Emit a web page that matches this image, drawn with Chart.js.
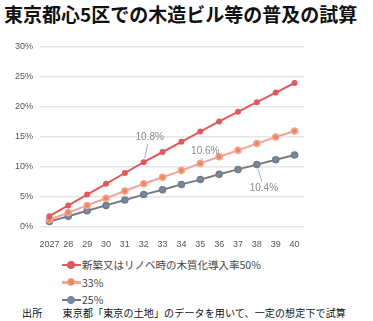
<!DOCTYPE html>
<html><head><meta charset="utf-8">
<script src="https://cdn.jsdelivr.net/npm/chart.js@4/dist/chart.umd.min.js"></script>
<style>
html,body{margin:0;padding:0;background:#fff;width:373px;height:321px;overflow:hidden;font-family:"Noto Sans CJK JP","Noto Sans",sans-serif;}
#title{position:absolute;left:4px;top:2px;font-size:19px;font-weight:bold;color:#111;white-space:nowrap;letter-spacing:0px;line-height:24px;}
#wrap{position:absolute;left:0;top:0;width:373px;height:250px;}
#legend{position:absolute;left:62px;top:256px;font-size:10.5px;color:#444;}
.li{height:17.5px;display:flex;align-items:center;white-space:nowrap;}
.mk{position:relative;width:19px;height:10px;margin-right:1px;}
.mk .ln{position:absolute;left:0;right:0;top:4px;height:2.5px;}
.mk .dt{position:absolute;left:5px;top:1px;width:8px;height:8px;border-radius:50%;box-sizing:border-box;}
#foot{position:absolute;left:22px;top:305px;font-size:10px;letter-spacing:0.15px;color:#111;white-space:nowrap;line-height:16px;}
</style></head>
<body>
<div id="title">東京都心5区での木造ビル等の普及の試算</div>
<div id="wrap"><canvas id="c"></canvas></div>
<div id="legend"></div>
<div id="foot">出所　　東京都「東京の土地」のデータを用いて、一定の想定下で試算</div>
<script>
const years = ["2027","28","29","30","31","32","33","34","35","36","37","38","39","40"];
const seriesNames = ["新築又はリノベ時の木質化導入率50%","33%","25%"];
const rate50 = [1.8,3.6,5.4,7.2,9.0,10.8,12.5,14.2,15.9,17.6,19.2,20.8,22.4,24.0];
const rate33 = [1.2,2.4,3.6,4.8,6.0,7.2,8.3,9.4,10.6,11.7,12.8,13.9,15.0,16.0];
const rate25 = [0.9,1.8,2.7,3.6,4.5,5.4,6.2,7.1,7.9,8.8,9.6,10.4,11.2,12.0];
const yTicks = [0,5,10,15,20,25,30];
// annotated values: [series index, category index, label]
const notes = [[0,5,"10.8%"],[1,8,"10.6%"],[2,11,"10.4%"]];

const styles = [
  {line:"#e05a5c", fill:"#e05a5c", border:"#e05a5c"},
  {line:"#f2a39a", fill:"#f0884e", border:"#f2a39a"},
  {line:"#7a7a7a", fill:"#6b8cb0", border:"#7a7a7a"}
];
const noteOffsets = [[6,-25],[5,-12],[7,24]];

const calloutPlugin = {
  id:"callout",
  afterDatasetsDraw(chart){
    const ctx = chart.ctx;
    ctx.save();
    ctx.font = "10px 'Liberation Sans', sans-serif";
    ctx.textAlign = "center"; ctx.textBaseline = "middle";
    notes.forEach((n,i)=>{
      const el = chart.getDatasetMeta(n[0]).data[n[1]];
      const px = el.x, py = el.y;
      const tx = px + noteOffsets[i][0], ty = py + noteOffsets[i][1];
      ctx.strokeStyle = "#999"; ctx.lineWidth = 0.8;
      ctx.beginPath();
      const dir = Math.sign(noteOffsets[i][1]);
      ctx.moveTo(px + 1*Math.sign(noteOffsets[i][0]), py + dir*4);
      ctx.lineTo(tx - 2, ty - dir*7);
      ctx.stroke();
      ctx.fillStyle = "#8a8a8a";
      ctx.fillText(n[2], tx, ty);
    });
    ctx.restore();
  }
};

const data = [rate50, rate33, rate25];
const chart = new Chart(document.getElementById("c"), {
  type:"line",
  data:{
    labels: years,
    datasets: data.map((d,i)=>({
      label: seriesNames[i],
      data: d,
      borderColor: styles[i].line,
      backgroundColor: styles[i].fill,
      pointBackgroundColor: styles[i].fill,
      pointBorderColor: styles[i].border,
      pointBorderWidth: i===0?0:1.5,
      pointRadius: 3,
      borderWidth: 2,
      tension: 0
    }))
  },
  options:{
    responsive:true, maintainAspectRatio:false, animation:false,
    layout:{padding:{left:0,right:69,top:47,bottom:0}},
    plugins:{legend:{display:false}, tooltip:{enabled:false}},
    scales:{
      x:{
        offset:true,
        grid:{display:false},
        border:{display:false},
        ticks:{color:"#555", font:{size:9, family:"'Liberation Sans', sans-serif"}, padding:4, maxRotation:0, autoSkip:false},
        afterFit(s){ s.height = 23; }
      },
      y:{
        min:0, max:30,
        afterBuildTicks(s){ s.ticks = yTicks.map(v=>({value:v})); },
        grid:{color:"#e6e6e6", lineWidth:1.5, drawTicks:false},
        border:{display:false},
        ticks:{color:"#555", font:{size:9, family:"'Liberation Sans', sans-serif"}, padding:7, callback:v=>v+"%"},
        afterFit(s){ s.width = 40; }
      }
    }
  },
  plugins:[calloutPlugin]
});

const lg = document.getElementById("legend");
seriesNames.forEach((n,i)=>{
  const d = document.createElement("div"); d.className="li";
  d.innerHTML = '<span class="mk"><span class="ln" style="background:'+styles[i].line+'"></span><span class="dt" style="background:'+styles[i].fill+';border:'+(i===0?0:1.5)+'px solid '+styles[i].border+'"></span></span><span>'+n+'</span>';
  lg.appendChild(d);
});
</script>
</body></html>
